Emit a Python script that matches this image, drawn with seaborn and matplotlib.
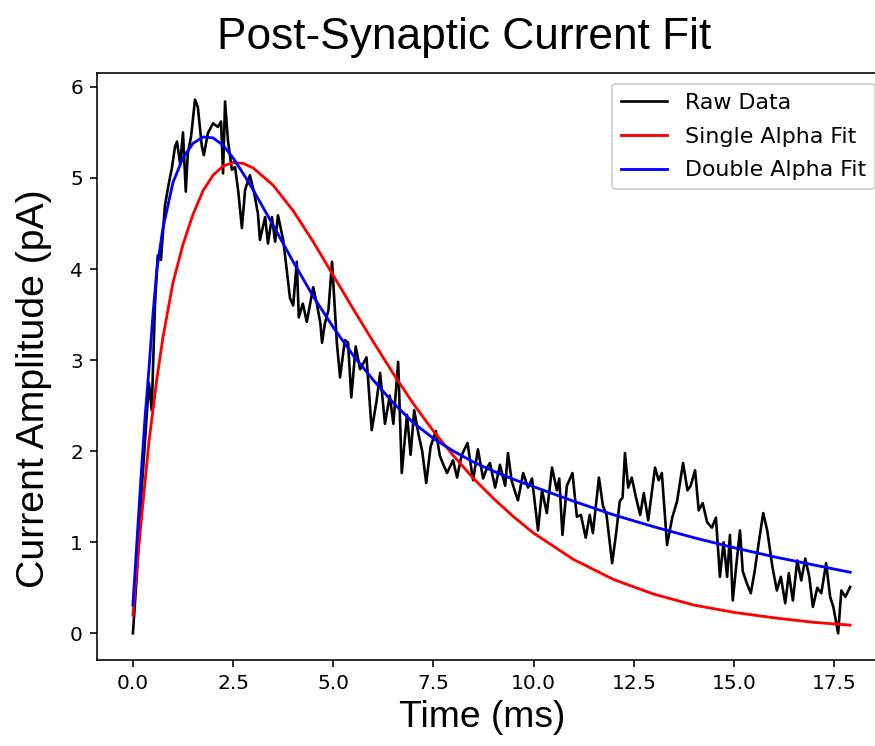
import matplotlib
matplotlib.use("Agg")
import matplotlib.pyplot as plt
import pandas as pd
import seaborn as sns

# raw trace (time in ms, current in pA)
raw_time = [0.00, 0.10, 0.20, 0.30, 0.40, 0.47, 0.55, 0.62, 0.70, 0.80, 0.90, 0.97,
            1.05, 1.10, 1.18, 1.25, 1.32, 1.37, 1.45, 1.55, 1.62, 1.72, 1.77, 1.87,
            2.00, 2.12, 2.20, 2.25, 2.30, 2.37, 2.47, 2.55, 2.63, 2.72, 2.80, 2.92,
            3.02, 3.12, 3.17, 3.30, 3.37, 3.47, 3.55, 3.62, 3.75, 3.85, 3.92, 4.00,
            4.09, 4.14, 4.24, 4.34, 4.50, 4.59, 4.68, 4.72, 4.79, 4.88, 4.97, 5.09,
            5.17, 5.29, 5.37, 5.45, 5.56, 5.67, 5.83, 5.96, 6.08, 6.17, 6.29, 6.41,
            6.50, 6.62, 6.71, 6.84, 6.93, 7.02, 7.13, 7.22, 7.32, 7.43, 7.56, 7.66,
            7.74, 7.84, 7.99, 8.09, 8.20, 8.35, 8.49, 8.61, 8.74, 8.84, 8.91, 9.04,
            9.16, 9.29, 9.36, 9.45, 9.54, 9.61, 9.74, 9.86, 9.96, 10.11, 10.21, 10.33,
            10.46, 10.58, 10.64, 10.72, 10.83, 10.97, 11.08, 11.18, 11.30, 11.40, 11.48, 11.63,
            11.73, 11.82, 11.96, 12.06, 12.15, 12.22, 12.28, 12.36, 12.45, 12.55, 12.66, 12.75,
            12.86, 13.03, 13.12, 13.20, 13.33, 13.46, 13.58, 13.73, 13.84, 13.92, 14.03, 14.12,
            14.22, 14.33, 14.45, 14.55, 14.65, 14.74, 14.83, 14.90, 14.97, 15.07, 15.15, 15.22,
            15.32, 15.42, 15.52, 15.62, 15.73, 15.83, 15.96, 16.07, 16.17, 16.28, 16.37, 16.47,
            16.58, 16.68, 16.78, 16.88, 16.97, 17.08, 17.18, 17.30, 17.40, 17.48, 17.60, 17.68,
            17.78, 17.90]
raw_current = [0.00, 0.65, 1.45, 2.10, 2.75, 2.45, 3.60, 4.15, 4.10, 4.70, 4.95, 5.10,
               5.34, 5.40, 5.15, 5.50, 4.85, 5.27, 5.45, 5.86, 5.78, 5.35, 5.25, 5.49,
               5.60, 5.56, 5.62, 5.05, 5.84, 5.42, 5.09, 5.12, 4.85, 4.45, 4.87, 5.03,
               4.85, 4.61, 4.32, 4.57, 4.28, 4.57, 4.30, 4.59, 4.32, 3.95, 3.68, 3.60,
               4.08, 3.47, 3.62, 3.42, 3.80, 3.62, 3.40, 3.19, 3.40, 3.55, 4.08, 3.19,
               2.81, 3.22, 3.19, 2.59, 3.15, 2.90, 3.03, 2.23, 2.55, 2.86, 2.30, 2.61,
               2.30, 2.98, 1.76, 2.40, 1.96, 2.45, 2.18, 2.00, 1.65, 2.05, 2.22, 1.95,
               1.86, 1.76, 1.90, 1.71, 1.95, 2.09, 1.68, 2.02, 1.70, 1.82, 1.87, 1.60,
               1.85, 1.62, 1.98, 1.68, 1.55, 1.46, 1.76, 1.60, 1.70, 1.13, 1.57, 1.32,
               1.82, 1.57, 1.70, 1.08, 1.62, 1.76, 1.28, 1.30, 1.05, 1.30, 1.10, 1.71,
               1.40, 1.30, 0.77, 1.10, 1.45, 1.49, 1.98, 1.60, 1.71, 1.50, 1.30, 1.54,
               1.24, 1.82, 1.68, 1.76, 0.97, 1.27, 1.45, 1.87, 1.57, 1.62, 1.79, 1.35,
               1.43, 1.22, 1.16, 1.27, 0.62, 1.00, 0.62, 1.08, 0.36, 0.80, 1.13, 0.68,
               0.55, 0.44, 0.69, 1.00, 1.32, 1.13, 0.73, 0.47, 0.62, 0.33, 0.66, 0.36,
               0.80, 0.58, 0.82, 0.62, 0.29, 0.50, 0.44, 0.77, 0.40, 0.29, 0.00, 0.47,
               0.40, 0.51]

# fitted curves
fit_time = [0.0, 0.1, 0.2, 0.3, 0.4, 0.5, 0.6, 0.75, 1.0, 1.25, 1.5, 1.75, 2.0,
            2.25, 2.5, 2.75, 3.0, 3.5, 4.0, 4.5, 5.0, 5.5, 6.0, 6.5, 7.0, 7.5,
            8.0, 8.5, 9.0, 9.5, 10.0, 11.0, 12.0, 13.0, 14.0, 15.0, 16.0, 17.0, 17.9]
single_fit = [0.20, 0.72, 1.20, 1.65, 2.10, 2.45, 2.80, 3.25, 3.85, 4.27, 4.60, 4.86, 5.03,
              5.13, 5.17, 5.16, 5.11, 4.92, 4.64, 4.30, 3.93, 3.56, 3.20, 2.85, 2.52, 2.22,
              1.95, 1.70, 1.48, 1.28, 1.10, 0.81, 0.59, 0.43, 0.31, 0.23, 0.17, 0.12, 0.09]
double_fit = [0.31, 1.00, 1.70, 2.35, 2.90, 3.50, 4.00, 4.45, 4.95, 5.22, 5.38, 5.45, 5.44,
              5.36, 5.22, 5.05, 4.87, 4.48, 4.08, 3.70, 3.36, 3.05, 2.78, 2.53, 2.31, 2.14,
              2.00, 1.88, 1.78, 1.69, 1.61, 1.45, 1.30, 1.17, 1.05, 0.94, 0.84, 0.75, 0.67]

raw_df = pd.DataFrame({"t": raw_time, "i": raw_current})
fit_df = pd.DataFrame({"t": fit_time, "single": single_fit, "double": double_fit})

fig = plt.figure(figsize=(875 / 145, 746 / 145), dpi=145)
# the reference is cropped on the right, so the axes run past the figure edge
ax = fig.add_axes([0.1109, 0.1153, 0.9017, 0.7869])

sns.lineplot(data=raw_df, x="t", y="i", color="black", label="Raw Data",
             estimator=None, linewidth=1.3, ax=ax)
sns.lineplot(data=fit_df, x="t", y="single", color="red", label="Single Alpha Fit",
             estimator=None, linewidth=1.4, ax=ax)
sns.lineplot(data=fit_df, x="t", y="double", color="blue", label="Double Alpha Fit",
             estimator=None, linewidth=1.4, ax=ax)

ax.set_xticks([0.0, 2.5, 5.0, 7.5, 10.0, 12.5, 15.0, 17.5])
ax.set_title("Post-Synaptic Current Fit", fontsize=22, family="Liberation Sans",
             x=0.465, pad=12)
ax.set_xlabel("Time (ms)", fontsize=18.5, family="Liberation Sans")
ax.set_ylabel("Current Amplitude (pA)", fontsize=19.5, family="Liberation Sans")
ax.xaxis.set_label_coords(0.488, -0.068)
ax.yaxis.set_label_coords(-0.057, 0.463)
ax.legend(loc="upper right", fontsize=11, labelspacing=0.62, handlelength=2.1)

fig.savefig("out.png", dpi=145)
plt.close(fig)
